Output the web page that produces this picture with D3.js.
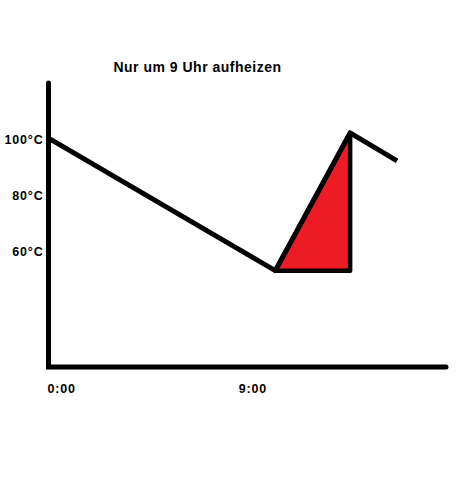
<!DOCTYPE html>
<html>
<head>
<meta charset="utf-8">
<script src="https://cdn.jsdelivr.net/npm/d3@7"></script>
<style>
  html, body { margin: 0; padding: 0; background: #fff; }
  svg { display: block; }
  text { font-family: "Liberation Sans", Arial, sans-serif; font-weight: bold; fill: #000; }
</style>
</head>
<body>
<script>
// ---- data ----
const title = "Nur um 9 Uhr aufheizen";
const hours = [0, 10.67, 14.19, 16.4];          // time of day (h)
const temps = [100.3, 53, 102.2, 92.2];          // temperature (°C)
const heatStart = 1;                             // index where heating starts
const heatEnd = 2;                               // index where heating ends
const yTicks = [60, 80, 100];
const yTickLabels = ["60°C", "80°C", "100°C"];
const xTicks = [0, 9];
const xTickLabels = ["0:00", "9:00"];

const W = 464, H = 500;
const svg = d3.select("body").append("svg").attr("width", W).attr("height", H);

const x = d3.scaleLinear().domain([0, 18.7]).range([48.5, 446]);
const y = d3.scaleLinear().domain([18.6, 120]).range([367, 83]);

// title
svg.append("text").attr("x", 197.5).attr("y", 72).attr("text-anchor", "middle")
  .style("font-size", "14px").style("letter-spacing", "0.5px").text(title);

// heated area (triangle)
const tri = [
  [hours[heatStart], temps[heatStart]],
  [hours[heatEnd], temps[heatEnd]],
  [hours[heatEnd], temps[heatStart]]
];
svg.append("path")
  .attr("d", d3.line().x(d => x(d[0])).y(d => y(d[1]))(tri) + "Z")
  .attr("fill", "#ED1C24").attr("stroke", "#000").attr("stroke-width", 4.5)
  .attr("stroke-linejoin", "round");

// temperature line
svg.append("path")
  .datum(hours.map((h, i) => [h, temps[i]]))
  .attr("d", d3.line().x(d => x(d[0])).y(d => y(d[1])))
  .attr("fill", "none").attr("stroke", "#000").attr("stroke-width", 5)
  .attr("stroke-linejoin", "round");

// axes lines
svg.append("path")
  .attr("d", d3.line()([[x(0), y(120)], [x(0), y(18.6)], [x(18.7), y(18.6)]]))
  .attr("fill", "none").attr("stroke", "#000").attr("stroke-width", 5)
  .attr("stroke-linecap", "round").attr("stroke-linejoin", "miter");

// y tick labels
const yAxis = d3.axisLeft(y).tickValues(yTicks).tickSize(0).tickPadding(0)
  .tickFormat((d, i) => yTickLabels[i]);
const gy = svg.append("g").attr("transform", `translate(${x(0) - 5},0)`).call(yAxis);
gy.select(".domain").remove();
gy.selectAll("text").style("font-size", "12.5px").style("letter-spacing", "0.8px")
  .attr("font-family", null).attr("fill", "#000");

// x tick labels
const xAxis = d3.axisBottom(x).tickValues(xTicks).tickSize(0).tickPadding(0)
  .tickFormat((d, i) => xTickLabels[i]);
const gx = svg.append("g").attr("transform", `translate(0,${y(18.6)})`).call(xAxis);
gx.select(".domain").remove();
gx.selectAll("text").attr("text-anchor", "start").attr("dx", -1.5).attr("dy", 0).attr("y", 26)
  .style("font-size", "12.5px").style("letter-spacing", "0.8px")
  .attr("font-family", null).attr("fill", "#000");
</script>
</body>
</html>
